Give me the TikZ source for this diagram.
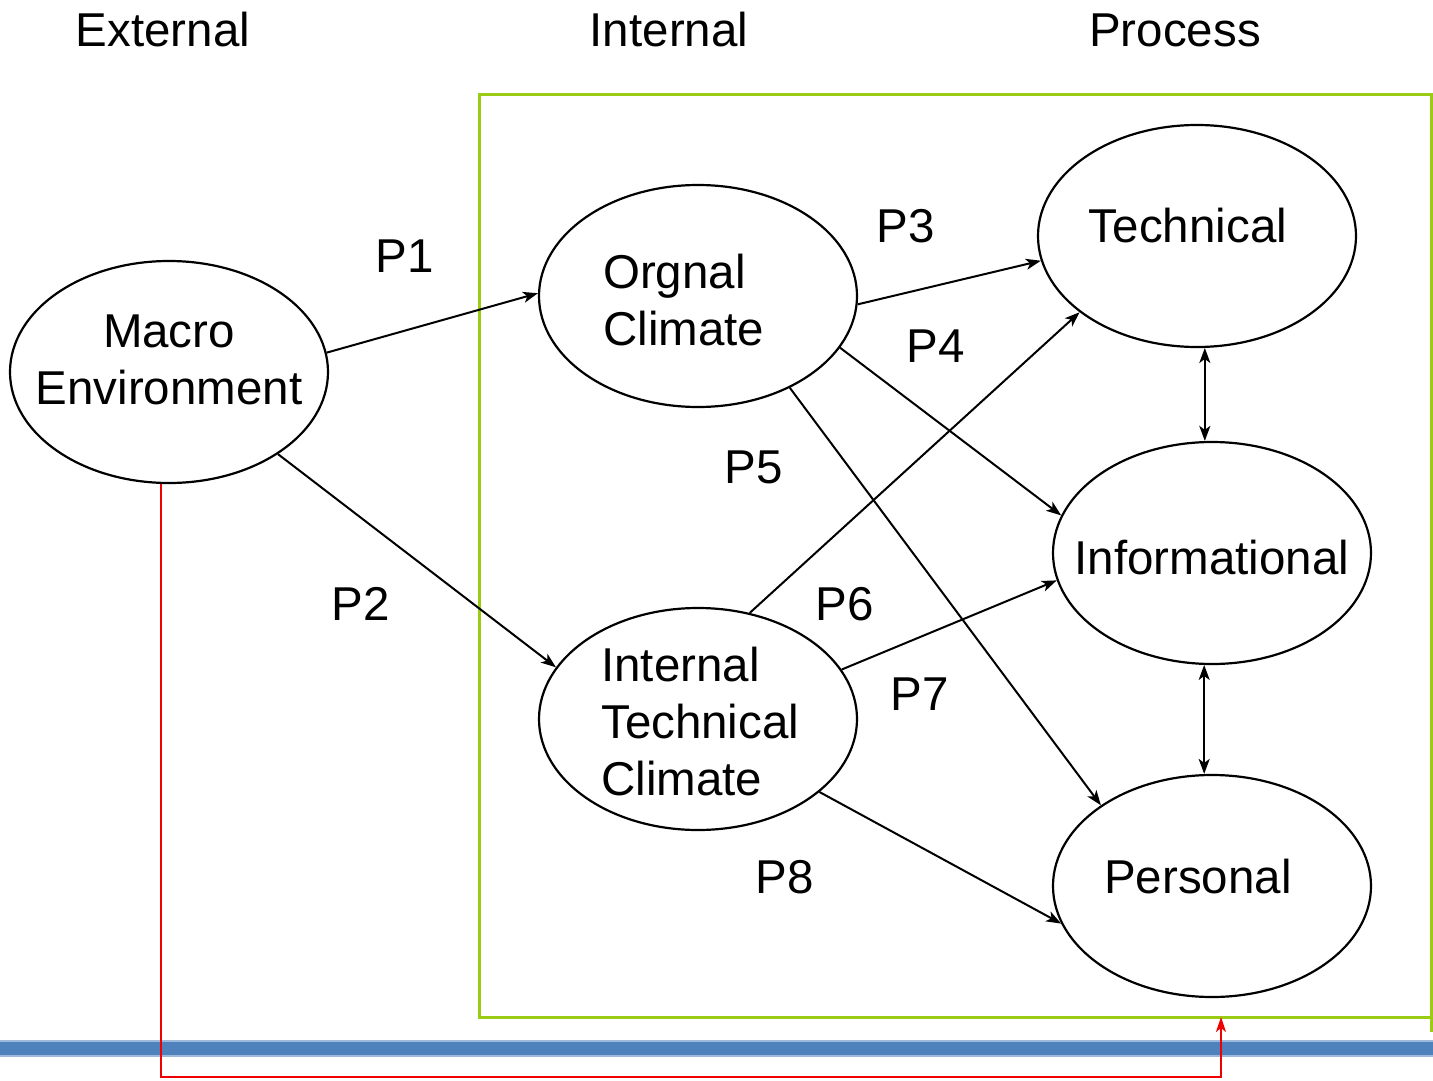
\documentclass[tikz,border=0pt]{standalone}
\usepackage{fontspec}
\setmainfont{Liberation Sans}
\usetikzlibrary{shapes.geometric,arrows.meta}
\definecolor{boxgreen}{RGB}{154,204,20}
\definecolor{barblue}{RGB}{79,129,189}
\definecolor{redline}{RGB}{240,0,0}
\tikzset{
  oval/.style={ellipse,draw=black,line width=2.2pt,minimum width=318pt,minimum height=222pt,inner sep=0pt},
  txt/.style={font=\fontsize{47.5}{57}\selectfont,inner sep=0pt},
  tip/.style={Stealth[length=15pt,width=11pt,inset=4pt]},
  conn/.style={draw=black,line width=2pt,-{Stealth[length=15pt,width=11pt,inset=4pt]}},
  biconn/.style={draw=black,line width=2pt,{Stealth[length=15pt,width=11pt,inset=4pt]}-{Stealth[length=15pt,width=11pt,inset=4pt]}},
}
\begin{document}
\begin{tikzpicture}[x=1pt,y=-1pt]
\useasboundingbox (0,0) rectangle (1433,1081);
% blue bar
\fill[barblue!55] (0,1040) rectangle (1433,1057);
\fill[barblue] (0,1042) rectangle (1433,1055);
% green box
\draw[boxgreen,line width=3pt] (1431,1032) -- (1431,95) -- (479,95) -- (479,1017) -- (1431,1017);
% headers
\node[txt] (hext) at (163,30) {External};
\node[txt] (hint) at (669,30) {Internal};
\node[txt] (hpro) at (1175,30) {Process};
% ellipses
\node[oval] (mac) at (169,372) {};
\node[oval] (org) at (698,296) {};
\node[oval] (itc) at (698,719) {};
\node[oval] (tech) at (1197,236) {};
\node[oval] (info) at (1212,553) {};
\node[oval] (pers) at (1212,886) {};
% ellipse texts
\node[txt,align=center] (mact) at (169,360) {Macro\\Environment};
\node[txt,align=left,anchor=west] (orgt) at (603,300) {Orgnal\\Climate};
\node[txt,align=left,anchor=west] (itct) at (601,722) {Internal\\Technical\\Climate};
\node[txt] (techt) at (1188,226) {Technical};
\node[txt] (infot) at (1212,558) {Informational};
\node[txt] (perst) at (1198,877) {Personal};
% labels
\node[txt] (p1) at (405,256) {P1};
\node[txt] (p2) at (361,604) {P2};
\node[txt] (p3) at (906,226) {P3};
\node[txt] (p4) at (936,346) {P4};
\node[txt] (p5) at (754,467) {P5};
\node[txt] (p6) at (845,604) {P6};
\node[txt] (p7) at (920,694) {P7};
\node[txt] (p8) at (785,877) {P8};
% connectors
\draw[conn] (mac.7) -- (org.179);
\draw[conn] (mac.-37) -- (itc.160.5);
\draw[conn] (org.-3.6) -- (tech.-171);
\draw[conn] (org.-20.8) -- (info.166);
\draw[conn] (org.-45.9) -- (pers.144.4);
\draw[conn] (itc.64.7) -- (tech.-147.5);
\draw[conn] (itc.19.4) -- (info.-170.4);
\draw[conn] (itc.-31.7) -- (pers.-166.6);
\draw[biconn] (tech.-86) -- (tech.-86 |- info.north);
\draw[biconn] (info.-94) -- (info.-94 |- pers.north);
% red feedback
\coordinate (gb) at (1221,1017);
\coordinate (rb) at (0,1077);
\draw[redline,line width=2pt,-{Stealth[length=15pt,width=10pt,inset=4pt]}] (mac.-94) -- (mac.-94 |- rb) -| (gb);
\end{tikzpicture}
\end{document}
